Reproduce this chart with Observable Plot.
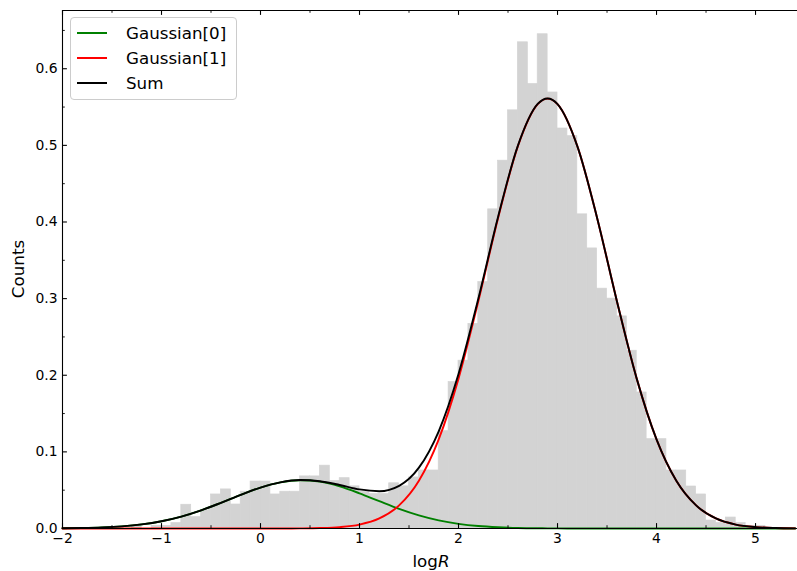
<!DOCTYPE html>
<html>
<head>
<meta charset="utf-8">
<script src="https://cdn.jsdelivr.net/npm/d3@7"></script>
<script src="https://cdn.jsdelivr.net/npm/@observablehq/plot@0.6"></script>
<style>
  body { margin: 0; background: #fff; }
  #chart { position: relative; width: 797px; height: 571px; font-family: "DejaVu Sans", sans-serif; }
  #chart svg { display: block; }
  .legend { position: absolute; left: 70px; top: 17px; width: 167px; height: 83px; box-sizing: border-box;
            border: 1px solid #cccccc; border-radius: 4px; background: rgba(255,255,255,0.8); }
  .legend .row { position: absolute; left: 0; height: 20px; width: 100%; }
  .legend .sw { position: absolute; left: 6px; top: 9px; width: 30px; height: 0; border-top: 2px solid; }
  .legend .lab { position: absolute; left: 55px; top: 0; font-size: 16.7px; line-height: 20px; color: #000; white-space: nowrap; }
</style>
</head>
<body>
<div id="chart"></div>
<script>
// ---- data ----
const binStarts = [-1.3,-1.2,-1.1,-1.0,-0.9,-0.8,-0.7,-0.6,-0.5,-0.4,-0.3,-0.2,-0.1,0.0,0.1,0.2,0.3,0.4,0.5,0.6,0.7,0.8,0.9,1.0,1.1,1.2,1.3,1.4,1.5,1.6,1.7,1.8,1.9,2.0,2.1,2.2,2.3,2.4,2.5,2.6,2.7,2.8,2.9,3.0,3.1,3.2,3.3,3.4,3.5,3.6,3.7,3.8,3.9,4.0,4.1,4.2,4.3,4.4,4.5,4.6,4.7,4.8,4.9,5.0];
const binCounts = [0.0035,0,0.0035,0.0035,0.007,0.031,0.0148,0.024,0.0444,0.051,0.0313,0.048,0.0613,0.0613,0.0444,0.048,0.048,0.068,0.068,0.082,0.062,0.0657,0.055,0.048,0.045,0.045,0.059,0.055,0.0666,0.0757,0.0757,0.127,0.191,0.219,0.267,0.3215,0.4165,0.480,0.5457,0.6345,0.580,0.645,0.569,0.522,0.512,0.410,0.3655,0.313,0.300,0.2768,0.232,0.1775,0.1166,0.1166,0.0757,0.0757,0.0548,0.0444,0.0104,0.007,0.0143,0.007,0.0035,0.0035];
const binWidth = 0.1;

const curveX = [-2.0,-1.8,-1.6,-1.4,-1.2,-1.0,-0.8,-0.6,-0.4,-0.2,0.0,0.2,0.4,0.6,0.8,1.0,1.2,1.4,1.6,1.8,2.0,2.2,2.4,2.6,2.8,2.9,3.0,3.2,3.4,3.6,3.8,4.0,4.2,4.4,4.6,4.8,5.0,5.2,5.4];
const gauss0 = [0.00026,0.00062,0.00137,0.00282,0.00537,0.0095,0.0156,0.0237,0.0335,0.0439,0.0534,0.0602,0.0630,0.0611,0.0550,0.0459,0.0356,0.0256,0.0171,0.0106,0.0061,0.0032,0.0016,0.0007,0.0003,0.0002,0.0001,0.00004,0,0,0,0,0,0,0,0,0,0,0];
const gauss1 = [0,0,0,0,0,0,0,0,0,0,0.00001,0.00004,0.00017,0.00058,0.0018,0.0051,0.0131,0.0301,0.0623,0.1163,0.1956,0.2966,0.4053,0.4990,0.5538,0.5610,0.5538,0.4990,0.4053,0.2966,0.1956,0.1163,0.0623,0.0301,0.0131,0.0051,0.0018,0.00058,0.00017];
const sumCurve = [0.00026,0.00062,0.00137,0.00282,0.00537,0.0095,0.0156,0.0237,0.0335,0.0439,0.0534,0.0602,0.0632,0.0617,0.0568,0.0510,0.0487,0.0557,0.0794,0.1269,0.2017,0.2998,0.4069,0.4997,0.5541,0.5612,0.5539,0.4990,0.4053,0.2966,0.1956,0.1163,0.0623,0.0301,0.0131,0.0051,0.0018,0.00058,0.00017];

const seriesNames = ["Gaussian[0]", "Gaussian[1]", "Sum"];
const seriesColors = ["#008000", "#ff0000", "#000000"];

const xMajor = [-2,-1,0,1,2,3,4,5];
const xMinor = [-1.5,-0.5,0.5,1.5,2.5,3.5,4.5];
const yMajor = [0,0.1,0.2,0.3,0.4,0.5,0.6];
const yMinor = [0.05,0.15,0.25,0.35,0.45,0.55,0.65];

const xDomain = [-2, 5.424];
const yDomain = [0, 0.676];

// ---- build tables ----
const bins = binStarts.map((s, i) => ({x1: s, x2: s + binWidth, y: binCounts[i]}));
const curves = [gauss0, gauss1, sumCurve].map((vals, k) =>
  curveX.map((x, i) => ({x, y: vals[i], name: seriesNames[k]})));

const W = 797, H = 571, mL = 62, mR = 0, mT = 10, mB = 43;
const fw = W - mL - mR, fh = H - mT - mB;
const maj = 4.9, mnr = 2.8;

const plot = Plot.plot({
  width: W, height: H,
  marginLeft: mL, marginRight: mR, marginTop: mT, marginBottom: mB,
  style: {fontFamily: "DejaVu Sans, sans-serif", fontSize: "13.9px", color: "#000", background: "#fff"},
  x: {domain: xDomain, ticks: xMajor, tickSize: 0, tickPadding: 5, label: null},
  y: {domain: yDomain, ticks: yMajor, tickSize: 0, tickPadding: 5, tickFormat: d3.format(".1f"), label: null},
  marks: [
    Plot.rectY(bins, {x1: "x1", x2: "x2", y: "y", fill: "#d3d3d3", stroke: "#d3d3d3", strokeWidth: 0.7, inset: 0}),
    Plot.line(curves[0], {x: "x", y: "y", stroke: seriesColors[0], strokeWidth: 1.9, curve: "monotone-x"}),
    Plot.line(curves[1], {x: "x", y: "y", stroke: seriesColors[1], strokeWidth: 1.9, curve: "monotone-x"}),
    Plot.line(curves[2], {x: "x", y: "y", stroke: seriesColors[2], strokeWidth: 1.9, curve: "monotone-x"}),
    // spines
    Plot.ruleX([xDomain[0]], {stroke: "#000", strokeWidth: 1.1}),
    Plot.ruleY([yDomain[0]], {stroke: "#000", strokeWidth: 1.1}),
    Plot.ruleY([yDomain[1]], {stroke: "#000", strokeWidth: 1.1}),
    // inward ticks bottom / top
    Plot.tickX(xMajor, {x: d => d, insetTop: fh - maj, stroke: "#000", strokeWidth: 1.1}),
    Plot.tickX(xMinor, {x: d => d, insetTop: fh - mnr, stroke: "#000", strokeWidth: 0.9}),
    Plot.tickX(xMajor, {x: d => d, insetBottom: fh - maj, stroke: "#000", strokeWidth: 1.1}),
    Plot.tickX(xMinor, {x: d => d, insetBottom: fh - mnr, stroke: "#000", strokeWidth: 0.9}),
    // inward ticks left
    Plot.tickY(yMajor, {y: d => d, insetRight: fw - maj, stroke: "#000", strokeWidth: 1.1}),
    Plot.tickY(yMinor, {y: d => d, insetRight: fw - mnr, stroke: "#000", strokeWidth: 0.9})
  ]
});

const chart = document.getElementById("chart");
chart.appendChild(plot);

const svg = d3.select(plot);
const xl = svg.append("text")
  .attr("x", 431).attr("y", 567)
  .attr("text-anchor", "middle")
  .attr("font-family", "DejaVu Sans, sans-serif")
  .attr("font-size", "16.7px").attr("fill", "#000");
xl.append("tspan").text("log");
xl.append("tspan").attr("font-style", "italic").text("R");

svg.append("text")
  .attr("transform", `translate(24,${mT + fh / 2}) rotate(-90)`)
  .attr("text-anchor", "middle")
  .attr("font-family", "DejaVu Sans, sans-serif")
  .attr("font-size", "16.7px").attr("fill", "#000")
  .text("Counts");

// legend
const leg = document.createElement("div");
leg.className = "legend";
seriesNames.forEach((name, i) => {
  const row = document.createElement("div");
  row.className = "row";
  row.style.top = (5 + i * 25) + "px";
  const sw = document.createElement("div");
  sw.className = "sw";
  sw.style.borderTopColor = seriesColors[i];
  const lab = document.createElement("div");
  lab.className = "lab";
  lab.textContent = name;
  row.appendChild(sw); row.appendChild(lab);
  leg.appendChild(row);
});
chart.appendChild(leg);
</script>
</body>
</html>
